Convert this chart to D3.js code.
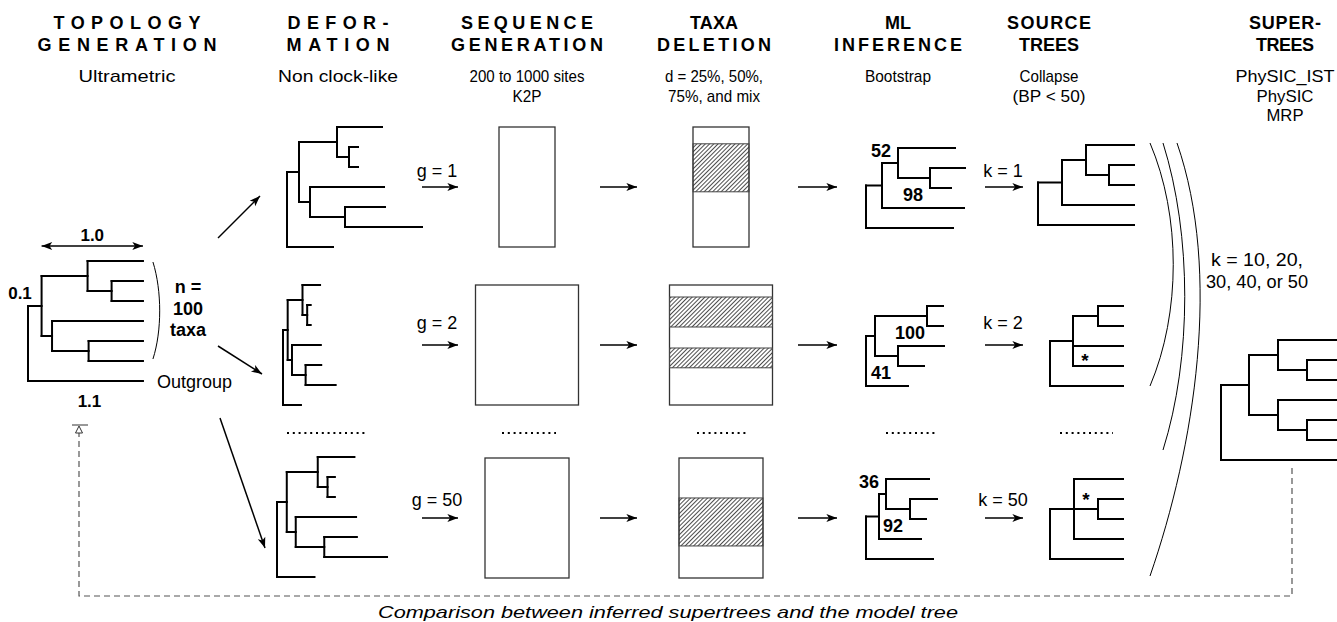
<!DOCTYPE html>
<html>
<head>
<meta charset="utf-8">
<script src="https://cdn.jsdelivr.net/npm/d3@7/dist/d3.min.js"></script>
<style>
  body { margin: 0; background: #fff; }
  svg { display: block; font-family: "Liberation Sans", Arial, sans-serif; }
</style>
</head>
<body>
<svg id="chart" width="1337" height="622"></svg>
<script>
// ---- data ----
let stageTitles = [["TOPOLOGY", "GENERATION"], ["DEFOR-", "MATION"], ["SEQUENCE", "GENERATION"],
  ["TAXA", "DELETION"], ["ML", "INFERENCE"], ["SOURCE", "TREES"], ["SUPER-", "TREES"]];
let stageNotes = [["Ultrametric"], ["Non clock-like"], ["200 to 1000 sites", "K2P"],
  ["d = 25%, 50%,", "75%, and mix"], ["Bootstrap"], ["Collapse", "(BP < 50)"], ["PhySIC_IST", "PhySIC", "MRP"]];

// trees as newick, internal names = bootstrap values / collapsed marks
let modelTree = "(((a:0.53,(b:0.30,c:0.30):0.23):0.44,(d:0.87,(e:0.52,f:0.52):0.35):0.10):0.13,out:1.10);";
let modelLabels = ["1.0", "0.1", "1.1"];
let taxaLabel = ["n =", "100", "taxa"];
let deformedTree = "(((a:0.45,(b:0.09,c:0.09):0.12):0.38,(d:0.74,(e:0.40,f:0.77):0.35):0.11):0.12,out:0.46);";
let geneIds = [1, 2, 50];
let sites = [280, 515, 420];
let deleted = [[[0.14, 0.54]], [[0.10, 0.35], [0.525, 0.69]], [[0.333, 0.733]]];
let mlTrees = [
  "(((a:0.57,(b:0.35,c:0.21)98:0.32)52:0.16,d:0.82):0.16,out:0.87);",
  "(((a:0.16,b:0.16)100:0.52,(c:0.46,d:0.26)41:0.23):0.09,out:0.42);",
  "(((a:0.43,(b:0.27,c:0.16)92:0.24)36:0.07,d:0.42):0.13,out:0.67);"
];
let sourceIds = [1, 2, 50];
let sourceTrees = [
  "(((a:0.48,(b:0.25,c:0.25):0.23):0.24,d:0.72):0.24,out:0.96);",
  "(((a:0.25,b:0.25):0.25,c:0.50,d:0.50)*:0.23,out:0.73);",
  "((a:0.49,(b:0.25,c:0.25):0.24,d:0.49)*:0.24,out:0.73);"
];
let supertree = "(((a:0.59,(b:0.30,c:0.30):0.29):0.29,(d:0.59,(e:0.30,f:0.30):0.29):0.29):0.28,out:1.16);";
let kText = ["k = 10, 20,", "30, 40, or 50"];
let caption = "Comparison between inferred supertrees and the model tree";

// ---- layout ----
let colX = [127, 338, 527, 714, 898, 1049, 1285];
let titleW = [[147, 179], [101, 103], [132, 152], [48, 114], [26, 128], [84, 60], [72, 58]];
let noteW = [[97], [120], [115, 29], [98, 92], [66], [59, 73], [99, 57, 37]];
let rowY = [187, 345, 518];
let rowLift = [16, 22, 18];
let boxTop = [127, 285, 458];
let boxH = 120;
let taxaX = 721;
let defPanels = [{x: 287, unit: 100, y: 127}, {x: 283, unit: 39, y: 285}, {x: 277, unit: 81.5, y: 457}];
let mlPanels = [{x: 866, unit: 100, y: 148}, {x: 866, unit: 100, y: 306}, {x: 866, unit: 100, y: 479}];
let srcPanels = [{x: 1038, unit: 100, y: 145}, {x: 1050, unit: 100, y: 306}, {x: 1050, unit: 100, y: 479}];
let bsAbove = ["52", "36"];

let svg = d3.select("#chart");
let ink = "#000";

let defs = svg.append("defs");
defs.append("marker")
  .attr("id", "head")
  .attr("viewBox", "0 0 10 8")
  .attr("refX", 10).attr("refY", 4)
  .attr("markerWidth", 12).attr("markerHeight", 8.5)
  .attr("markerUnits", "userSpaceOnUse")
  .attr("orient", "auto-start-reverse")
  .append("path")
  .attr("d", "M0,0.3 L10,4 L0,7.7 L2.5,4 Z")
  .attr("fill", ink);
defs.append("pattern")
  .attr("id", "hatch")
  .attr("patternUnits", "userSpaceOnUse")
  .attr("width", 3).attr("height", 3)
  .attr("patternTransform", "rotate(45)")
  .append("line")
  .attr("x1", 0).attr("y1", 0).attr("x2", 0).attr("y2", 3)
  .attr("stroke", "#111").attr("stroke-width", 1.5);

function parseNewick(s) {
  let i = 0;
  function node() {
    let n = {children: []};
    if (s[i] == "(") {
      i++;
      n.children.push(node());
      while (s[i] == ",") { i++; n.children.push(node()); }
      i++;
    }
    let name = "";
    while (i < s.length && !",():;".includes(s[i])) name += s[i++];
    n.name = name;
    n.length = 0;
    if (s[i] == ":") {
      i++;
      let len = "";
      while (i < s.length && !",();".includes(s[i])) len += s[i++];
      n.length = +len;
    }
    if (!n.children.length) delete n.children;
    return n;
  }
  return node();
}

function drawTree(nwk, p) {
  let root = d3.hierarchy(parseNewick(nwk));
  root.eachBefore(d => { d.dist = d.parent ? d.parent.dist + d.data.length : 0; });
  let leaves = root.leaves();
  leaves.forEach((d, i) => d.idx = i);
  root.eachAfter(d => {
    if (d.children) d.idx = (d.children[0].idx + d.children[d.children.length - 1].idx) / 2;
  });
  let x = d3.scaleLinear().domain([0, 1]).range([p.x, p.x + p.unit]);
  let y = d3.scaleLinear().domain([0, leaves.length - 1]).range([p.y, p.y + 20 * (leaves.length - 1)]);
  let g = svg.append("g")
    .attr("stroke", ink)
    .attr("stroke-width", 2)
    .attr("stroke-linecap", "square");
  g.selectAll(".h")
    .data(root.descendants().filter(d => d.parent))
    .enter().append("line")
    .attr("x1", d => x(d.parent.dist)).attr("x2", d => x(d.dist))
    .attr("y1", d => y(d.idx)).attr("y2", d => y(d.idx));
  g.selectAll(".v")
    .data(root.descendants().filter(d => d.children))
    .enter().append("line")
    .attr("x1", d => x(d.dist)).attr("x2", d => x(d.dist))
    .attr("y1", d => y(d.children[0].idx))
    .attr("y2", d => y(d.children[d.children.length - 1].idx));
  return {root: root, x: x, y: y};
}

function label(x, y, txt, size, weight, width, stretch) {
  let t = svg.append("text")
    .attr("x", x).attr("y", y)
    .attr("text-anchor", "middle")
    .style("font-size", size + "px")
    .style("font-weight", weight || "normal")
    .attr("fill", ink)
    .text(txt);
  if (width) t.attr("textLength", width).attr("lengthAdjust", stretch || "spacing");
  return t;
}

function arrow(x1, y1, x2, y2, both) {
  let l = svg.append("line")
    .attr("x1", x1).attr("y1", y1).attr("x2", x2).attr("y2", y2)
    .attr("stroke", ink).attr("stroke-width", 1.5)
    .attr("marker-end", "url(#head)");
  if (both) l.attr("marker-start", "url(#head)");
}

// ---- headers ----
stageTitles.forEach((lines, c) => {
  lines.forEach((s, r) => label(colX[c], 29 + r * 22, s, 18, "bold", titleW[c][r]));
});
stageNotes.forEach((lines, c) => {
  lines.forEach((s, r) => label(colX[c], 82 + r * 19.5, s, 17, "normal", noteW[c][r], "spacingAndGlyphs"));
});

// ---- model tree ----
let mt = drawTree(modelTree, {x: 28, unit: 104.5, y: 261});
let mtLeaves = mt.root.leaves();
let mtX = mt.root.children[0];
let mtRight = mt.x(d3.max(mtLeaves, d => d.dist));
arrow(mt.x(mtX.dist), mt.y(0) - 15, mtRight, mt.y(0) - 15, true);
label((mt.x(mtX.dist) + mtRight) / 2, mt.y(0) - 20, modelLabels[0], 17, "bold");
label(mt.x(0) - 8, mt.y(mtX.idx) - 7, modelLabels[1], 17, "bold");
label((mt.x(0) + mtRight) / 2 + 4, mt.y(6) + 26, modelLabels[2], 17, "bold");
svg.append("path")
  .attr("d", `M${mtRight + 10},${mt.y(0) + 1} C${mtRight + 19},${mt.y(1.5)} ${mtRight + 19},${mt.y(3.5)} ${mtRight + 10},${mt.y(5) - 2}`)
  .attr("fill", "none").attr("stroke", ink).attr("stroke-width", 1);
taxaLabel.forEach((s, i) => label(188, mt.y(1.5) + 2 + i * 21.5, s, 18, "bold"));
svg.append("text")
  .attr("x", mtRight + 14).attr("y", mt.y(6) + 7)
  .style("font-size", "18px").attr("fill", ink)
  .text("Outgroup");

// fan-out arrows
arrow(218, 238, 260, 196);
arrow(218, 346, 262, 374);
arrow(220, 418, 265, 548);

// ---- deformation trees ----
defPanels.forEach(p => drawTree(deformedTree, p));

// ---- sequence + taxa deletion boxes ----
let siteScale = d3.scaleLinear().domain([0, 1000]).range([0, 200]);
geneIds.forEach((g, r) => {
  label(437, rowY[r] - rowLift[r] + 6, "g = " + g, 18);
  arrow(422, rowY[r], 458, rowY[r]);
  let w = siteScale(sites[r]);
  svg.append("rect")
    .attr("x", colX[2] - w / 2).attr("y", boxTop[r])
    .attr("width", w).attr("height", boxH)
    .attr("fill", "#fff").attr("stroke", "#333").attr("stroke-width", 1.3);
  arrow(600, rowY[r], 637, rowY[r]);
  let ty = d3.scaleLinear().domain([0, 1]).range([boxTop[r], boxTop[r] + boxH]);
  svg.append("rect")
    .attr("x", taxaX - w / 2).attr("y", boxTop[r])
    .attr("width", w).attr("height", boxH)
    .attr("fill", "#fff").attr("stroke", "#333").attr("stroke-width", 1.3);
  svg.selectAll(".band" + r)
    .data(deleted[r])
    .enter().append("rect")
    .attr("x", taxaX - w / 2).attr("y", d => ty(d[0]))
    .attr("width", w).attr("height", d => ty(d[1]) - ty(d[0]))
    .attr("fill", "url(#hatch)").attr("stroke", "#444").attr("stroke-width", 1);
  arrow(798, rowY[r], 837, rowY[r]);
});

// ---- ML trees with bootstrap values ----
mlTrees.forEach((nwk, r) => {
  let t = drawTree(nwk, mlPanels[r]);
  t.root.descendants().filter(d => d.children && d.data.name).forEach(d => {
    let up = bsAbove.includes(d.data.name);
    label(t.x(d.dist) - 17, t.y(d.idx) + (up ? -6 : 23), d.data.name, 18, "bold");
  });
});

// ---- source trees ----
sourceTrees.forEach((nwk, r) => {
  label(1003, rowY[r] - rowLift[r] + 6, "k = " + sourceIds[r], 18);
  arrow(985, rowY[r], 1023, rowY[r]);
  let t = drawTree(nwk, srcPanels[r]);
  t.root.descendants().filter(d => d.data.name == "*").forEach(d => {
    let below = d.children[1].children == null;
    label(t.x(d.dist) + 12, t.y(d.idx) + (below ? 26 : -3), "*", 19, "bold");
  });
});

// dotted "..." rows between replicate 2 and 50
let dotRows = [[287, 366], [502, 556], [697, 749], [886, 938], [1060, 1113]];
svg.selectAll(".dots")
  .data(dotRows)
  .enter().append("line")
  .attr("x1", d => d[0]).attr("x2", d => d[1])
  .attr("y1", 433).attr("y2", 433)
  .attr("stroke", ink).attr("stroke-width", 2)
  .attr("stroke-dasharray", "2,3.8");

// brackets gathering source trees
let brackets = [[1150, 143, 1150, 386, 31], [1163, 143, 1163, 450, 29], [1177, 143, 1150, 576, 45]];
svg.selectAll(".brk")
  .data(brackets)
  .enter().append("path")
  .attr("d", d => {
    let h = d[3] - d[1];
    return `M${d[0]},${d[1]} C${d[0] + d[4]},${d[1] + h * 0.3} ${d[2] + d[4]},${d[3] - h * 0.3} ${d[2]},${d[3]}`;
  })
  .attr("fill", "none").attr("stroke", ink).attr("stroke-width", 1);

kText.forEach((s, i) => label(1257, 266 + i * 22, s, 18, "normal", [92, 102][i], "spacingAndGlyphs"));

// ---- supertree ----
drawTree(supertree, {x: 1221, unit: 100, y: 340});

// ---- feedback loop ----
svg.append("path")
  .attr("d", "M1292,468 V596 H79 V433")
  .attr("fill", "none").attr("stroke", "#555").attr("stroke-width", 1.2)
  .attr("stroke-dasharray", "6,4");
svg.append("path")
  .attr("d", "M79,426 L82.5,433 L75.5,433 Z")
  .attr("fill", "#fff").attr("stroke", "#333").attr("stroke-width", 1);
svg.append("line")
  .attr("x1", 72).attr("x2", 88).attr("y1", 425).attr("y2", 425)
  .attr("stroke", "#333").attr("stroke-width", 1);
label(668, 618, caption, 17, "normal", 580, "spacingAndGlyphs").style("font-style", "italic");
</script>
</body>
</html>
